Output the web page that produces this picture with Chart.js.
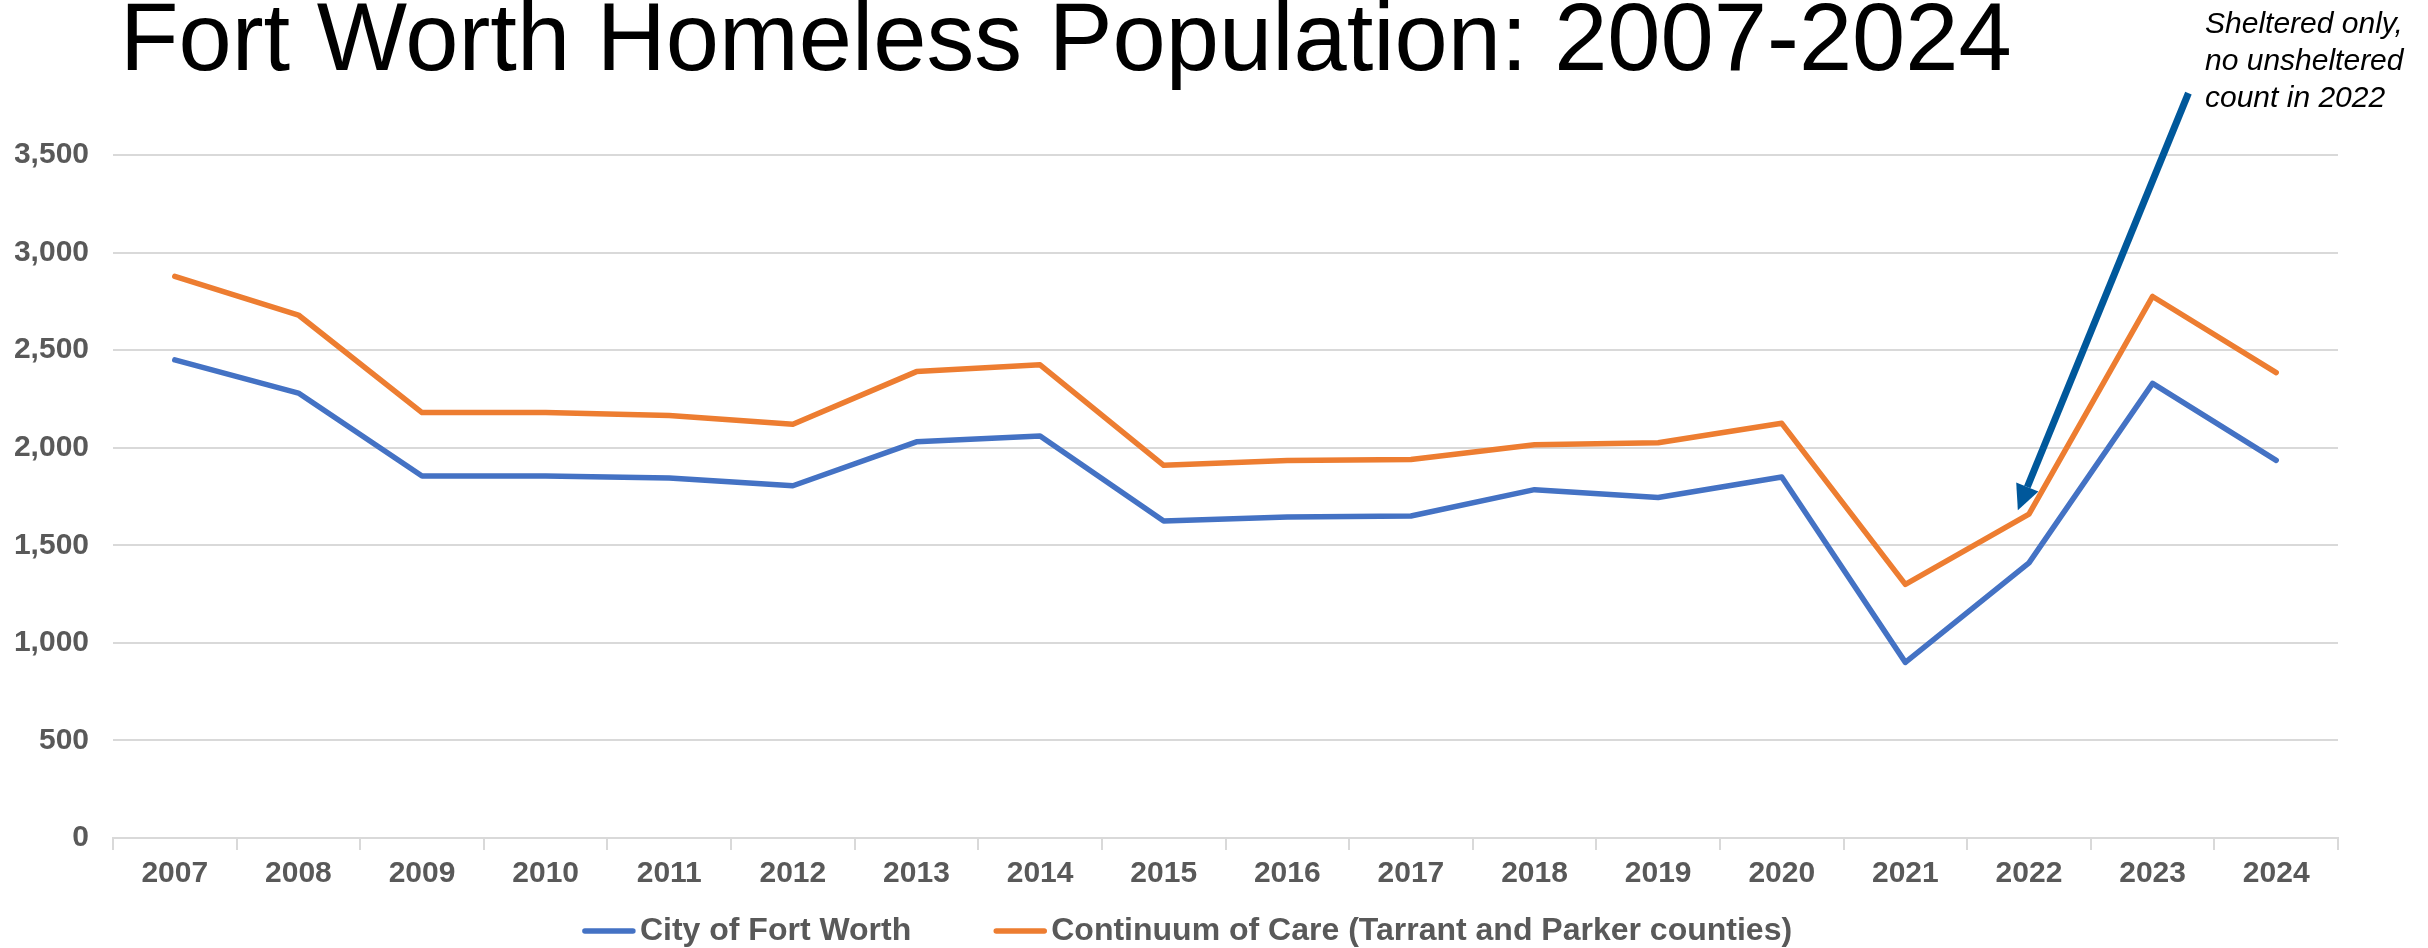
<!DOCTYPE html>
<html>
<head>
<meta charset="utf-8">
<script src="https://cdn.jsdelivr.net/npm/chart.js@4.4.1/dist/chart.umd.min.js"></script>
<style>
  html, body { margin: 0; padding: 0; background: #fff; }
  #wrap { width: 2428px; height: 948px; }
</style>
</head>
<body>
<div id="wrap"><canvas id="chart"></canvas></div>
<script>
const years = ['2007', '2008', '2009', '2010', '2011', '2012', '2013', '2014', '2015',
  '2016', '2017', '2018', '2019', '2020', '2021', '2022', '2023', '2024'];
const cityOfFortWorth = [2450, 2280, 1855, 1855, 1845, 1805, 2030, 2060, 1625,
  1645, 1650, 1785, 1745, 1850, 900, 1410, 2330, 1935];
const continuumOfCare = [2878, 2680, 2180, 2180, 2165, 2120, 2390, 2425, 1910,
  1935, 1940, 2015, 2025, 2125, 1300, 1660, 2775, 2385];
const yTicks = [0, 500, 1000, 1500, 2000, 2500, 3000, 3500];

const titleText = 'Fort Worth Homeless Population: 2007-2024';
const noteLines = ['Sheltered only,', 'no unsheltered', 'count in 2022'];
// arrow in data units: [category index, value]
const arrowTail = [16.29, 3817];
const arrowTip = [14.91, 1680];

const gray = '#595959';
const gridColor = '#D9D9D9';
const font = '"Liberation Sans", Arial, sans-serif';

const extras = {
  id: 'extras',
  afterDraw(chart) {
    const { ctx, scales: { x, y } } = chart;
    ctx.save();
    ctx.fillStyle = '#000';
    ctx.textBaseline = 'alphabetic';
    ctx.textAlign = 'left';
    ctx.font = '95.7px ' + font;
    ctx.fillText(titleText, 120, 70);

    ctx.font = 'italic 30px ' + font;
    noteLines.forEach((line, i) => ctx.fillText(line, 2205, 33 + i * 37));

    // arrow
    const x1 = x.getPixelForValue(arrowTail[0]);
    const y1 = y.getPixelForValue(arrowTail[1]);
    const x2 = x.getPixelForValue(arrowTip[0]);
    const y2 = y.getPixelForValue(arrowTip[1]);
    const ang = Math.atan2(y2 - y1, x2 - x1);
    const headLen = 25, headW = 12;
    const bx = x2 - headLen * Math.cos(ang);
    const by = y2 - headLen * Math.sin(ang);
    ctx.strokeStyle = '#00589B';
    ctx.fillStyle = '#00589B';
    ctx.lineWidth = 7;
    ctx.beginPath();
    ctx.moveTo(x1, y1);
    ctx.lineTo(bx, by);
    ctx.stroke();
    ctx.beginPath();
    ctx.moveTo(x2, y2);
    ctx.lineTo(bx + headW * Math.sin(ang), by - headW * Math.cos(ang));
    ctx.lineTo(bx - headW * Math.sin(ang), by + headW * Math.cos(ang));
    ctx.closePath();
    ctx.fill();

    // legend
    const sets = chart.data.datasets;
    const lineLen = 54, textGap = 4, itemGap = 82;
    ctx.font = 'bold 32px ' + font;
    ctx.textBaseline = 'middle';
    const widths = sets.map(d => lineLen + textGap + ctx.measureText(d.label).width);
    const total = widths.reduce((a, b) => a + b, 0) + itemGap * (sets.length - 1);
    let lx = chart.width / 2 - 27 - total / 2;
    const ly = 931;
    sets.forEach((d, i) => {
      ctx.strokeStyle = d.borderColor;
      ctx.lineWidth = d.borderWidth;
      ctx.lineCap = 'round';
      ctx.beginPath();
      ctx.moveTo(lx + 3, ly);
      ctx.lineTo(lx + lineLen - 3, ly);
      ctx.stroke();
      ctx.fillStyle = gray;
      ctx.fillText(d.label, lx + lineLen + textGap, ly);
      lx += widths[i] + itemGap;
    });
    ctx.restore();
  }
};

new Chart(document.getElementById('chart'), {
  type: 'line',
  data: {
    labels: years,
    datasets: [{
      label: 'City of Fort Worth',
      data: cityOfFortWorth,
      borderColor: '#4472C4',
      backgroundColor: '#4472C4',
      borderWidth: 5.5,
      borderCapStyle: 'round',
      borderJoinStyle: 'round',
      pointRadius: 0,
      tension: 0
    }, {
      label: 'Continuum of Care (Tarrant and Parker counties)',
      data: continuumOfCare,
      borderColor: '#ED7D31',
      backgroundColor: '#ED7D31',
      borderWidth: 5.5,
      borderCapStyle: 'round',
      borderJoinStyle: 'round',
      pointRadius: 0,
      tension: 0
    }]
  },
  options: {
    responsive: true,
    maintainAspectRatio: false,
    animation: false,
    layout: { padding: { top: 155, left: 15, right: 90, bottom: 62 } },
    scales: {
      x: {
        offset: true,
        grid: { drawOnChartArea: false, drawTicks: true, tickLength: 12, offset: true, color: gridColor, lineWidth: 2 },
        border: { color: gridColor, width: 2 },
        ticks: { color: gray, font: { family: font, size: 30, weight: 'bold' }, padding: 6, maxRotation: 0 },
        afterFit(s) { s.height = 48; }
      },
      y: {
        min: 0,
        max: 3500,
        afterBuildTicks(s) { s.ticks = yTicks.map(v => ({ value: v })); },
        grid: { drawTicks: false, color: gridColor, lineWidth: 2 },
        border: { display: false },
        ticks: {
          color: gray,
          padding: 24,
          font: { family: font, size: 30, weight: 'bold' },
          callback: v => v.toLocaleString('en-US')
        },
        afterFit(s) { s.width = 98; }
      }
    },
    plugins: {
      legend: { display: false },
      tooltip: { enabled: false }
    }
  },
  plugins: [extras]
});
</script>
</body>
</html>
